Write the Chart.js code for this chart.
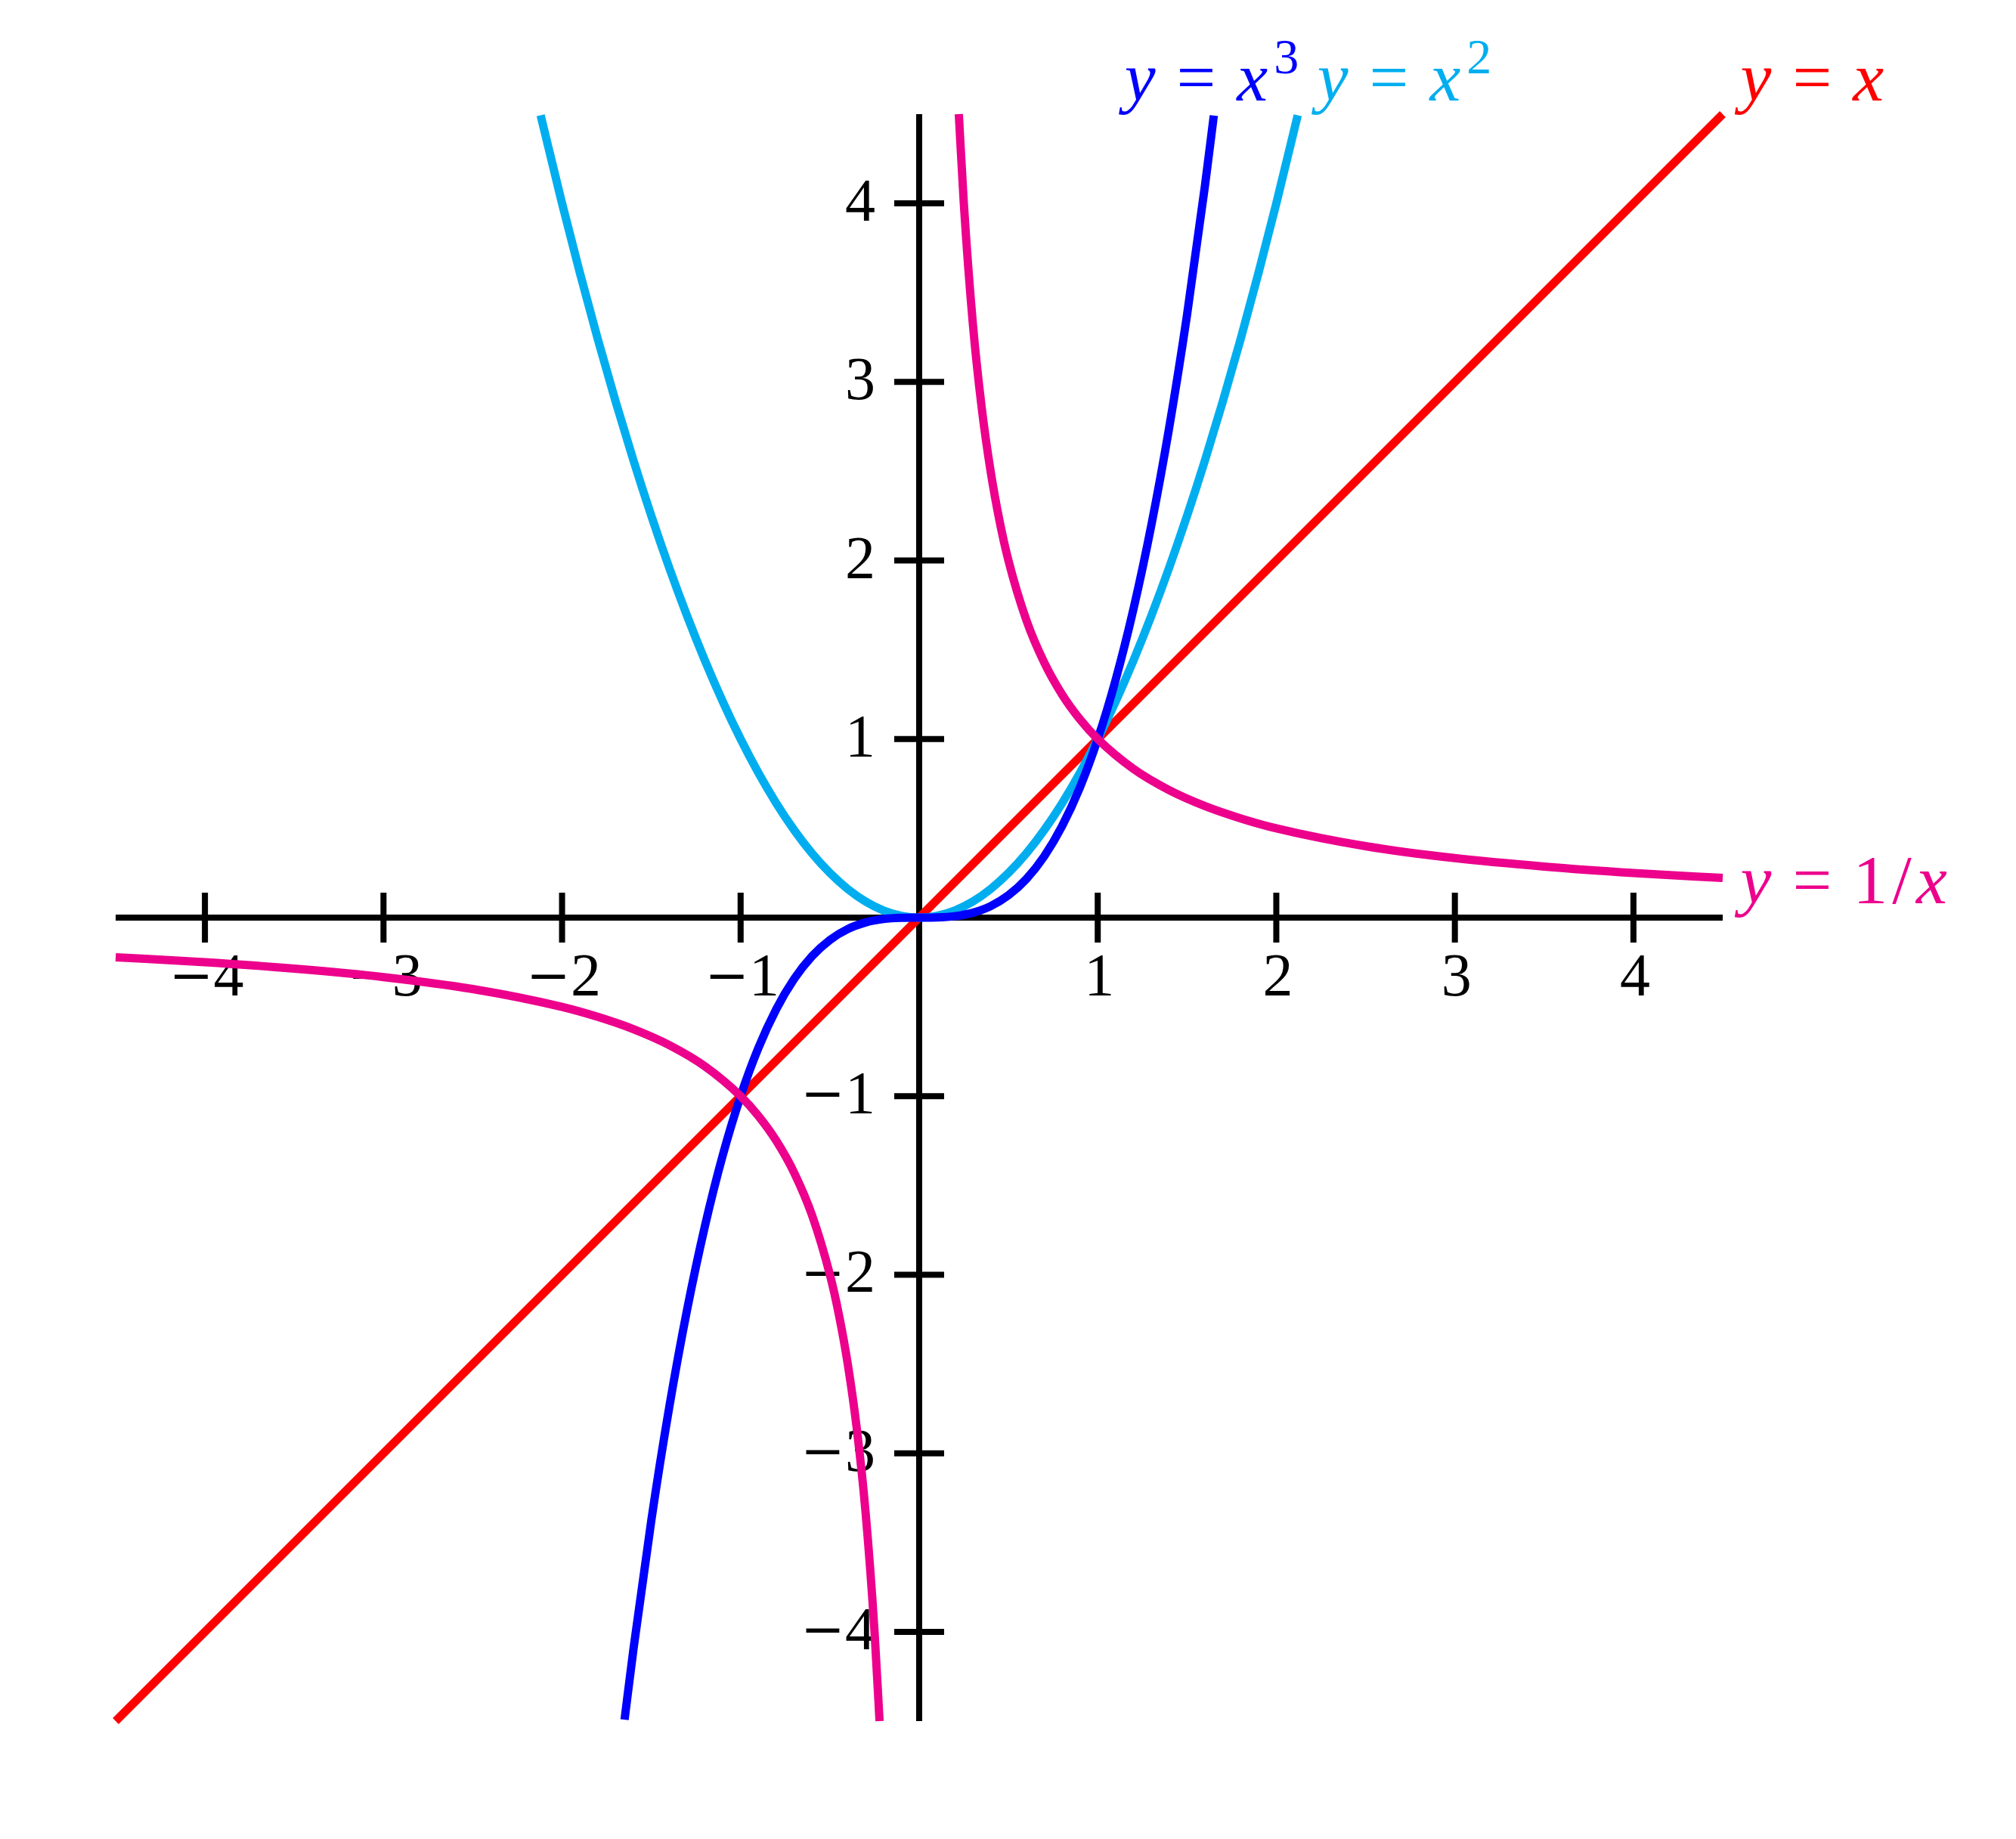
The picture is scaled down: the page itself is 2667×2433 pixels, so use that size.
<!DOCTYPE html>
<html>
<head>
<meta charset="utf-8">
<script src="https://cdn.jsdelivr.net/npm/chart.js@4"></script>
<style>
  body { margin: 0; background: #fff; }
  canvas { display: block; }
</style>
</head>
<body>
<canvas id="graph" width="2667" height="2433"></canvas>
<script>
// y = x, y = x^2, y = x^3, y = 1/x

var lineX = [-4.5, 4.5];
var lineY = [-4.5, 4.5];

var squareX = [-2.12, -2.0, -1.9, -1.8, -1.7, -1.6, -1.5, -1.4, -1.3, -1.2, -1.1, -1.0, -0.9, -0.8, -0.7, -0.6, -0.5, -0.4, -0.3, -0.2, -0.1, 0,
    0.1, 0.2, 0.3, 0.4, 0.5, 0.6, 0.7, 0.8, 0.9, 1.0, 1.1, 1.2, 1.3, 1.4, 1.5, 1.6, 1.7, 1.8, 1.9, 2.0, 2.12];
var squareY = [4.494, 4.0, 3.61, 3.24, 2.89, 2.56, 2.25, 1.96, 1.69, 1.44, 1.21, 1.0, 0.81, 0.64, 0.49, 0.36, 0.25, 0.16, 0.09, 0.04, 0.01, 0,
    0.01, 0.04, 0.09, 0.16, 0.25, 0.36, 0.49, 0.64, 0.81, 1.0, 1.21, 1.44, 1.69, 1.96, 2.25, 2.56, 2.89, 3.24, 3.61, 4.0, 4.494];

var cubeX = [-1.65, -1.6, -1.5, -1.4, -1.3, -1.2, -1.1, -1.0, -0.9, -0.8, -0.7, -0.6, -0.5, -0.4, -0.3, -0.2, -0.1, 0,
    0.1, 0.2, 0.3, 0.4, 0.5, 0.6, 0.7, 0.8, 0.9, 1.0, 1.1, 1.2, 1.3, 1.4, 1.5, 1.6, 1.65];
var cubeY = [-4.492, -4.096, -3.375, -2.744, -2.197, -1.728, -1.331, -1.0, -0.729, -0.512, -0.343, -0.216, -0.125, -0.064, -0.027, -0.008, -0.001, 0,
    0.001, 0.008, 0.027, 0.064, 0.125, 0.216, 0.343, 0.512, 0.729, 1.0, 1.331, 1.728, 2.197, 2.744, 3.375, 4.096, 4.492];

var recipRightX = [0.222, 0.25, 0.3, 0.35, 0.4, 0.45, 0.5, 0.6, 0.7, 0.8, 0.9, 1.0, 1.2, 1.4, 1.6, 1.8, 2.0, 2.5, 3.0, 3.5, 4.0, 4.5];
var recipRightY = [4.5, 4.0, 3.333, 2.857, 2.5, 2.222, 2.0, 1.667, 1.429, 1.25, 1.111, 1.0, 0.833, 0.714, 0.625, 0.556, 0.5, 0.4, 0.333, 0.286, 0.25, 0.222];
var recipLeftX = [-4.5, -4.0, -3.5, -3.0, -2.5, -2.0, -1.8, -1.6, -1.4, -1.2, -1.0, -0.9, -0.8, -0.7, -0.6, -0.5, -0.45, -0.4, -0.35, -0.3, -0.25, -0.222];
var recipLeftY = [-0.222, -0.25, -0.286, -0.333, -0.4, -0.5, -0.556, -0.625, -0.714, -0.833, -1.0, -1.111, -1.25, -1.429, -1.667, -2.0, -2.222, -2.5, -2.857, -3.333, -4.0, -4.5];

var tickValues = [-4, -3, -2, -1, 1, 2, 3, 4];
var tickLabels = ['\u22124', '\u22123', '\u22122', '\u22121', '1', '2', '3', '4'];

var RED = '#FF0000';
var CYAN = '#00AEEF';
var BLUE = '#0000FF';
var MAGENTA = '#EC008C';

var DIGIT_FONT = '80px "Liberation Serif"';
var MINUS_FONT = '70px "DejaVu Serif"';

function pts(xs, ys) {
    return xs.map(function (v, i) { return { x: v, y: ys[i] }; });
}

function curve(xs, ys, color) {
    return {
        data: pts(xs, ys),
        borderColor: color,
        borderWidth: 11,
        borderCapStyle: 'butt',
        pointRadius: 0,
        showLine: true,
        fill: false,
        cubicInterpolationMode: 'monotone',
        clip: false
    };
}

// tick label with a long minus, align: 'center' or 'right'
function tickText(ctx, s, px, py, align) {
    var neg = s.charAt(0) === '\u2212';
    var digits = neg ? s.slice(1) : s;
    ctx.font = DIGIT_FONT;
    var wd = ctx.measureText(digits).width;
    ctx.font = MINUS_FONT;
    var wm = neg ? ctx.measureText('\u2212').width : 0;
    var w = wm + wd;
    var left = align === 'center' ? px - w / 2 : px - w;
    ctx.textAlign = 'left';
    if (neg) {
        ctx.font = MINUS_FONT;
        ctx.fillText('\u2212', left, py);
    }
    ctx.font = DIGIT_FONT;
    ctx.fillText(digits, left + wm, py);
}

// axes with crossing ticks, drawn under the curves
var axesPlugin = {
    id: 'axes',
    beforeDatasetsDraw: function (chart) {
        var ctx = chart.ctx, x = chart.scales.x, y = chart.scales.y;
        var x0 = x.getPixelForValue(0), y0 = y.getPixelForValue(0);
        ctx.save();
        ctx.strokeStyle = '#000';
        ctx.lineWidth = 8;
        ctx.lineCap = 'butt';
        ctx.beginPath();
        ctx.moveTo(x.getPixelForValue(-4.5), y0);
        ctx.lineTo(x.getPixelForValue(4.5), y0);
        ctx.moveTo(x0, y.getPixelForValue(-4.5));
        ctx.lineTo(x0, y.getPixelForValue(4.5));
        tickValues.forEach(function (v) {
            var px = x.getPixelForValue(v), py = y.getPixelForValue(v);
            ctx.moveTo(px, y0 - 33);
            ctx.lineTo(px, y0 + 33);
            ctx.moveTo(x0 - 33, py);
            ctx.lineTo(x0 + 33, py);
        });
        ctx.stroke();

        ctx.fillStyle = '#000';
        ctx.textBaseline = 'middle';
        tickValues.forEach(function (v, i) {
            tickText(ctx, tickLabels[i], x.getPixelForValue(v) + 2, y0 + 82, 'center');
            tickText(ctx, tickLabels[i], x0 - 58, y.getPixelForValue(v) + 2, 'right');
        });
        ctx.restore();
    }
};

// curve names; f: i = italic, n = upright, s = superscript; g = gap before
var curveLabels = [
    { at: [1.15, 4.575], color: BLUE, runs: [{ t: 'y', f: 'i' }, { t: '=', f: 'n', g: 28 }, { t: 'x', f: 'i', g: 28 }, { t: '3', f: 's', g: 8 }] },
    { at: [2.23, 4.575], color: CYAN, runs: [{ t: 'y', f: 'i' }, { t: '=', f: 'n', g: 28 }, { t: 'x', f: 'i', g: 28 }, { t: '2', f: 's', g: 8 }] },
    { at: [4.60, 4.575], color: RED, runs: [{ t: 'y', f: 'i' }, { t: '=', f: 'n', g: 28 }, { t: 'x', f: 'i', g: 28 }] },
    { at: [4.60, 0.08], color: MAGENTA, runs: [{ t: 'y', f: 'i' }, { t: '=', f: 'n', g: 28 }, { t: '1', f: 'n', g: 28 }, { t: '/', f: 'n', g: 6 }, { t: 'x', f: 'i', g: 6 }] }
];

var labelPlugin = {
    id: 'curveLabels',
    afterDatasetsDraw: function (chart) {
        var ctx = chart.ctx, x = chart.scales.x, y = chart.scales.y;
        ctx.save();
        ctx.textAlign = 'left';
        ctx.textBaseline = 'alphabetic';
        curveLabels.forEach(function (lab) {
            var px = x.getPixelForValue(lab.at[0]);
            var py = y.getPixelForValue(lab.at[1]);
            ctx.fillStyle = lab.color;
            lab.runs.forEach(function (r) {
                var dy = 0;
                px += r.g || 0;
                if (r.f === 'i') ctx.font = 'italic 92px "Liberation Serif"';
                else if (r.f === 's') { ctx.font = '66px "Liberation Serif"'; dy = -36; }
                else ctx.font = '92px "Liberation Serif"';
                ctx.fillText(r.t, px, py + dy);
                px += ctx.measureText(r.t).width;
            });
        });
        ctx.restore();
    }
};

new Chart('graph', {
    type: 'scatter',
    data: {
        datasets: [
            curve(recipRightX, recipRightY, MAGENTA),
            curve(recipLeftX, recipLeftY, MAGENTA),
            curve(cubeX, cubeY, BLUE),
            curve(squareX, squareY, CYAN),
            curve(lineX, lineY, RED)
        ]
    },
    options: {
        responsive: false,
        devicePixelRatio: 1,
        animation: false,
        layout: { padding: { left: 153, right: 388, top: 151, bottom: 156 } },
        plugins: {
            legend: { display: false },
            tooltip: { enabled: false }
        },
        scales: {
            x: { type: 'linear', min: -4.5, max: 4.5, display: false },
            y: { type: 'linear', min: -4.5, max: 4.5, display: false }
        }
    },
    plugins: [axesPlugin, labelPlugin]
});
</script>
</body>
</html>
